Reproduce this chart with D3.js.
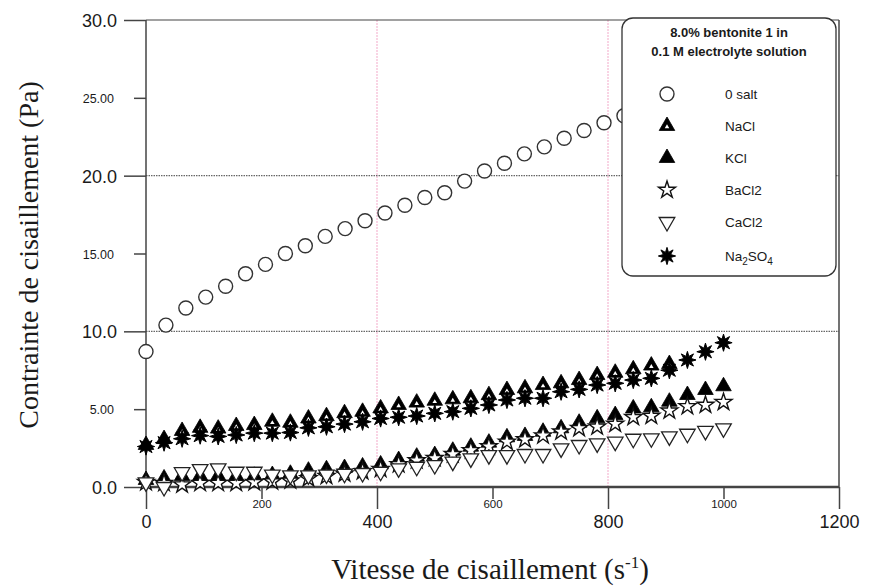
<!DOCTYPE html>
<meta charset="utf-8">
<head>
    <title>Contrainte de cisaillement</title>
    <script src="https://cdn.jsdelivr.net/npm/d3@7"></script>
    <style>
        body { margin: 0; background: white; }
        text { font-family: Arial, "Liberation Sans", sans-serif; fill: #1a1a1a; }
        .serif { font-family: "Liberation Serif", "Times New Roman", serif; }
    </style>
</head>
<body>
<script>
    // shear rates (s-1)
    const rate30 = [0, 34.5, 69, 103.4, 137.9, 172.4, 206.9, 241.4, 275.9, 310.3, 344.8, 379.3, 413.8, 448.3, 482.8,
        517.2, 551.7, 586.2, 620.7, 655.2, 689.7, 724.1, 758.6, 793.1, 827.6, 862.1, 896.6, 931, 965.5, 1000]
    const rate33 = [0, 31.25, 62.5, 93.75, 125, 156.25, 187.5, 218.75, 250, 281.25, 312.5, 343.75, 375, 406.25, 437.5,
        468.75, 500, 531.25, 562.5, 593.75, 625, 656.25, 687.5, 718.75, 750, 781.25, 812.5, 843.75, 875, 906.25,
        937.5, 968.75, 1000]

    // shear stress (Pa)
    const salt0 = [8.7, 10.4, 11.5, 12.2, 12.9, 13.7, 14.3, 15.0, 15.5, 16.1, 16.6, 17.1, 17.6, 18.1, 18.6, 18.9,
        19.65, 20.3, 20.8, 21.4, 21.85, 22.4, 22.9, 23.4, 23.85, 24.3, 24.8, 25.2, 25.7, 26.1]
    const nacl = [2.7, 3.08, 3.6, 3.8, 3.75, 3.92, 3.98, 4.19, 4.13, 4.4, 4.55, 4.74, 4.83, 5.05, 5.27, 5.42, 5.54,
        5.63, 5.7, 5.9, 6.23, 6.34, 6.55, 6.66, 6.87, 7.19, 7.34, 7.56, 7.8, 7.9]
    const kcl = [0.45, 0.55, 0.7, 0.7, 0.7, 0.7, 0.72, 0.77, 0.85, 1.05, 1.14, 1.22, 1.32, 1.45, 1.73, 1.95, 2.05,
        2.33, 2.59, 2.85, 3.19, 3.28, 3.55, 3.77, 4.13, 4.41, 4.62, 5.05, 5.12, 5.48, 5.91, 6.23, 6.47]
    const bacl2 = [0.3, 0.25, 0.15, 0.25, 0.25, 0.25, 0.3, 0.35, 0.4, 0.55, 0.7, 0.85, 1.0, 1.15, 1.45, 1.7, 1.85,
        2.1, 2.35, 2.6, 2.9, 3.05, 3.3, 3.55, 3.77, 3.87, 4.05, 4.48, 4.56, 4.9, 5.18, 5.27, 5.45]
    const cacl2 = [0.3, 0.0, 0.95, 1.15, 1.2, 0.98, 0.98, 0.8, 0.75, 0.75, 0.8, 0.85, 0.9, 0.98, 1.2, 1.3, 1.41,
        1.63, 1.84, 2.05, 2.05, 2.12, 2.12, 2.48, 2.7, 2.8, 2.91, 3.1, 3.13, 3.25, 3.42, 3.6, 3.77]
    const na2so4 = [2.6, 2.85, 3.1, 3.3, 3.25, 3.34, 3.46, 3.46, 3.5, 3.8, 3.87, 4.04, 4.19, 4.4, 4.48, 4.56, 4.73,
        4.84, 5.05, 5.27, 5.59, 5.7, 5.7, 6.12, 6.27, 6.55, 6.66, 6.87, 6.98, 7.5, 8.16, 8.69, 9.27]

    const xMajor = [0, 400, 800, 1200]
    const xMinor = [200, 600, 1000]
    const yMajor = [0, 10, 20, 30]
    const yMinor = [5, 15, 25]

    w = 882
    h = 588

    let svg = d3.select("body").append("svg")
        .attr("width", w)
        .attr("height", h)

    const x = d3.scaleLinear().domain([0, 1200]).range([146, 839])
    const y = d3.scaleLinear().domain([0, 30]).range([487, 20])

    // grid lines
    svg.selectAll(".vgrid").data([400, 800]).enter().append("line")
        .attr("x1", d => x(d)).attr("x2", d => x(d))
        .attr("y1", y(30)).attr("y2", y(0))
        .attr("stroke", "#f5b8d2").attr("stroke-width", 1.2).attr("stroke-dasharray", "2,1")
    svg.selectAll(".hgrid").data([10, 20]).enter().append("line")
        .attr("x1", x(0)).attr("x2", x(1200))
        .attr("y1", d => y(d)).attr("y2", d => y(d))
        .attr("stroke", "#666").attr("stroke-width", 1.2).attr("stroke-dasharray", "1.5,1")

    // frame
    svg.append("line").attr("x1", x(0)).attr("x2", x(1200)).attr("y1", y(30)).attr("y2", y(30))
        .attr("stroke", "#444").attr("stroke-width", 1.2)
    svg.append("line").attr("x1", x(1200)).attr("x2", x(1200)).attr("y1", y(30)).attr("y2", y(0))
        .attr("stroke", "#444").attr("stroke-width", 1.5)
    svg.append("line").attr("x1", x(0)).attr("x2", x(1200)).attr("y1", y(0)).attr("y2", y(0))
        .attr("stroke", "#444").attr("stroke-width", 2.5)
    svg.append("line").attr("x1", x(0)).attr("x2", x(0)).attr("y1", y(30)).attr("y2", y(0))
        .attr("stroke", "#444").attr("stroke-width", 1.5)

    // x axis: long ticks with big labels, short ticks with small labels
    let xAxisG = svg.append("g").attr("transform", "translate(0," + y(0) + ")")
    xAxisG.call(d3.axisBottom(x).tickValues(xMajor).tickSize(22).tickFormat(d3.format("d")))
    xAxisG.selectAll("text").attr("dy", 0).attr("y", 41).style("font-size", "18px")
    let xAxisG2 = svg.append("g").attr("transform", "translate(0," + y(0) + ")")
    xAxisG2.call(d3.axisBottom(x).tickValues(xMinor).tickSize(12).tickFormat(d3.format("d")))
    xAxisG2.selectAll("text").attr("dy", 0).attr("y", 21).style("font-size", "11.5px")
    svg.selectAll(".domain").remove()
    svg.selectAll(".tick line").attr("stroke", "#444").attr("stroke-width", 1.5)

    // y axis
    let yAxisG = svg.append("g").attr("transform", "translate(" + x(0) + ",0)")
    yAxisG.call(d3.axisLeft(y).tickValues(yMajor).tickSize(22).tickPadding(7).tickFormat(d3.format(".1f")))
    yAxisG.selectAll("text").style("font-size", "18px").attr("dy", "0.36em")
    let yAxisG2 = svg.append("g").attr("transform", "translate(" + x(0) + ",0)")
    yAxisG2.call(d3.axisLeft(y).tickValues(yMinor).tickSize(12).tickPadding(20).tickFormat(d3.format(".2f")))
    yAxisG2.selectAll("text").style("font-size", "12.5px").attr("dy", "0.36em")
    svg.selectAll(".domain").remove()
    svg.selectAll(".tick line").attr("stroke", "#444").attr("stroke-width", 1.5)

    // axis titles
    svg.append("text").attr("class", "serif")
        .attr("x", 490).attr("y", 579)
        .attr("text-anchor", "middle")
        .style("font-size", "29px")
        .html('Vitesse de cisaillement (s<tspan dy="-11" font-size="17px">-1</tspan><tspan dy="11">)</tspan>')
    svg.append("text").attr("class", "serif")
        .attr("transform", "translate(38,255) rotate(-90)")
        .attr("text-anchor", "middle")
        .style("font-size", "28px")
        .text("Contrainte de cisaillement (Pa)")

    // symbols
    const asterisk = {
        draw: function (ctx, size) {
            let R = Math.sqrt(size) / 1.6, r = R * 0.45
            for (let i = 0; i < 16; i++) {
                let a = i * Math.PI / 8 - Math.PI / 2
                let rr = i % 2 == 0 ? R : r
                if (i == 0) ctx.moveTo(rr * Math.cos(a), rr * Math.sin(a))
                else ctx.lineTo(rr * Math.cos(a), rr * Math.sin(a))
            }
            ctx.closePath()
        }
    }
    const triPath = d3.symbol().type(d3.symbolTriangle).size(105)()
    const triHole = d3.symbol().type(d3.symbolTriangle).size(9)()
    const starPath = d3.symbol().type(d3.symbolStar).size(90)()
    const astPath = d3.symbol().type(asterisk).size(190)()

    function drawCircle(g) {
        g.append("circle").attr("r", 7).attr("fill", "white").attr("stroke", "#333").attr("stroke-width", 1.4)
    }
    function drawNaCl(g) {
        g.append("path").attr("d", triPath).attr("fill", "black").attr("stroke", "black").attr("stroke-width", 0.8)
        g.append("path").attr("d", triHole).attr("fill", "white").attr("transform", "translate(0,1)")
    }
    function drawKCl(g) {
        g.append("path").attr("d", triPath).attr("fill", "black").attr("stroke", "black").attr("stroke-width", 0.8)
    }
    function drawBaCl2(g) {
        g.append("path").attr("d", starPath).attr("fill", "white").attr("stroke", "#111").attr("stroke-width", 1.4)
    }
    function drawCaCl2(g) {
        g.append("path").attr("d", triPath).attr("fill", "white").attr("stroke", "#222").attr("stroke-width", 1.3)
            .attr("transform", "rotate(180)")
    }
    function drawNa2SO4(g) {
        g.append("path").attr("d", astPath).attr("fill", "black").attr("stroke", "black").attr("stroke-width", 1)
    }

    const seriesList = [
        {name: "0 salt", rates: rate30, vals: salt0, draw: drawCircle},
        {name: "NaCl", rates: rate33, vals: nacl, draw: drawNaCl},
        {name: "KCl", rates: rate33, vals: kcl, draw: drawKCl},
        {name: "BaCl2", rates: rate33, vals: bacl2, draw: drawBaCl2},
        {name: "CaCl2", rates: rate33, vals: cacl2, draw: drawCaCl2},
        {name: "Na2SO4", rates: rate33, vals: na2so4, draw: drawNa2SO4}
    ]

    seriesList.forEach(function (s) {
        let pts = s.vals.map((v, i) => [s.rates[i], v])
        let g = svg.append("g")
        g.selectAll("g").data(pts).enter().append("g")
            .attr("transform", d => "translate(" + x(d[0]) + "," + y(d[1]) + ")")
            .each(function () { s.draw(d3.select(this)) })
    })

    // legend
    let legend = svg.append("g").attr("id", "legend")
    legend.append("rect")
        .attr("x", 622).attr("y", 18).attr("width", 214).attr("height", 258)
        .attr("rx", 11).attr("ry", 11)
        .attr("fill", "white").attr("stroke", "#333").attr("stroke-width", 1.3)
    legend.append("text").attr("x", 729).attr("y", 37).attr("text-anchor", "middle")
        .style("font-size", "13px").style("font-weight", "bold").text("8.0% bentonite 1 in")
    legend.append("text").attr("x", 729).attr("y", 56).attr("text-anchor", "middle")
        .style("font-size", "13px").style("font-weight", "bold").text("0.1 M electrolyte solution")

    const legendY = [94, 126, 158, 190, 222, 256]
    seriesList.forEach(function (s, i) {
        let g = legend.append("g").attr("transform", "translate(667," + legendY[i] + ")")
        s.draw(g)
        let t = legend.append("text").attr("x", 725).attr("y", legendY[i] + 5).style("font-size", "13.5px")
        if (s.name == "Na2SO4") {
            t.html('Na<tspan dy="4" font-size="10px">2</tspan><tspan dy="-4">SO</tspan><tspan dy="4" font-size="10px">4</tspan>')
        } else {
            t.text(s.name)
        }
    })
</script>
</body>
</html>
